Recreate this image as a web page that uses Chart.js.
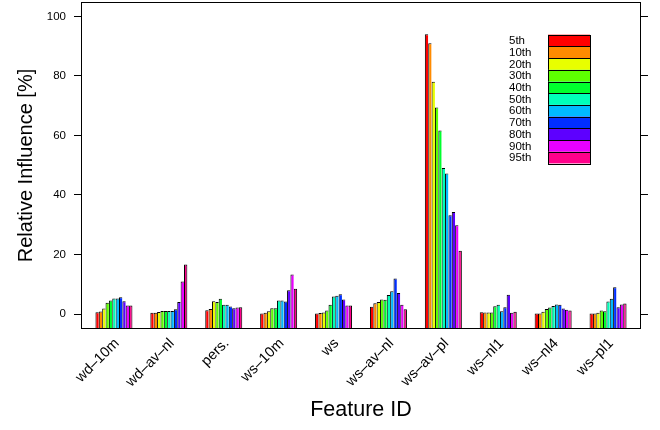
<!DOCTYPE html>
<html>
<head>
<meta charset="utf-8">
<script src="https://cdn.jsdelivr.net/npm/chart.js@4/dist/chart.umd.min.js"></script>
<style>
  html, body { margin: 0; padding: 0; background: #fff; }
  #wrap { width: 660px; height: 430px; }
</style>
</head>
<body>
<div id="wrap"><canvas id="c" width="660" height="430"></canvas></div>
<script>
// ---- data ----
const categories = ['wd–10m','wd–av–nl','pers.','ws–10m','ws','ws–av–nl','ws–av–pl','ws–nl1','ws–nl4','ws–pl1'];
const quantileLabels = ['5th','10th','20th','30th','40th','50th','60th','70th','80th','90th','95th'];
const quantileColors = ['#FF0000','#FF8B00','#E8FF00','#5DFF00','#00FF2E','#00FFB9','#00B9FF','#002EFF','#5D00FF','#E800FF','#FF008B'];
const p5  = [0.6, 0.4, 1.3, 0.2, 0.2, 2.4, 94.0, 0.6, 0.2, 0.2];
const p10 = [0.85, 0.4, 1.7, 0.4, 0.3, 3.6, 91.0, 0.5, 0.2, 0.2];
const p20 = [1.85, 0.7, 4.3, 0.95, 0.5, 4.0, 78.1, 0.5, 0.8, 0.4];
const p30 = [3.75, 1.05, 4.0, 1.95, 1.2, 4.9, 69.4, 0.5, 1.7, 1.2];
const p40 = [4.5, 1.05, 5.1, 1.95, 3.1, 4.8, 61.7, 2.6, 2.2, 0.95];
const p50 = [5.2, 1.05, 3.1, 4.5, 5.9, 6.4, 49.1, 3.1, 2.7, 4.2];
const p60 = [5.2, 1.05, 3.1, 4.5, 6.1, 7.65, 47.25, 0.95, 3.2, 5.1];
const p70 = [5.6, 1.6, 2.5, 4.2, 6.65, 11.9, 33.2, 2.3, 3.1, 9.0];
const p80 = [4.3, 4.0, 1.95, 8.0, 4.9, 7.1, 34.3, 6.5, 1.85, 2.3];
const p90 = [2.85, 10.9, 2.2, 13.3, 2.85, 3.1, 29.8, 0.4, 1.4, 3.2];
const p95 = [2.85, 16.6, 2.3, 8.5, 2.85, 1.6, 21.3, 0.8, 1.2, 3.5];
const yTicks = [0, 20, 40, 60, 80, 100];
const yMin = -5.04, yMax = 104.87;
const xMin = 0.4, xMax = 10.6;

const seriesValues = [p5, p10, p20, p30, p40, p50, p60, p70, p80, p90, p95];
const FONT = '"Liberation Sans", Arial, Helvetica, sans-serif';

const datasets = seriesValues.map((vals, i) => ({
  label: quantileLabels[i],
  data: vals.map((v, j) => ({ x: j + 1, y: v })),
  backgroundColor: quantileColors[i],
  borderColor: '#000',
  borderWidth: i === seriesValues.length - 1 ? { left: 1, right: 1, top: 1, bottom: 0 } : { left: 1, right: 0, top: 1, bottom: 0 },
  borderSkipped: false,
  base: yMin,
  categoryPercentage: 0.674,
  barPercentage: 1.0
}));

const framePlugin = {
  id: 'frame',
  afterDraw(chart) {
    const { ctx, chartArea: a } = chart;
    ctx.save();
    ctx.strokeStyle = '#000';
    ctx.lineWidth = 1;
    ctx.strokeRect(Math.round(a.left) + 0.5, Math.round(a.top) + 0.5, Math.round(a.right - a.left) - 1, Math.round(a.bottom - a.top) - 1);
    ctx.restore();
  }
};

const legendPlugin = {
  id: 'customLegend',
  afterDatasetsDraw(chart) {
    const { ctx } = chart;
    const x0 = 509, sx = 548, sw = 42, y0 = 34.7, rh = 11.7;
    ctx.save();
    chart.data.datasets.forEach((ds, i) => {
      const y = y0 + i * rh;
      ctx.fillStyle = ds.backgroundColor;
      ctx.fillRect(sx, y, sw, rh);
      ctx.strokeStyle = '#000';
      ctx.lineWidth = 1;
      ctx.strokeRect(sx + 0.5, Math.round(y) + 0.5, sw, Math.round(rh));
      ctx.fillStyle = '#000';
      ctx.font = '11.5px ' + FONT;
      ctx.textAlign = 'left';
      ctx.textBaseline = 'middle';
      ctx.fillText(ds.label, x0, y + rh / 2 + 0.5);
    });
    ctx.restore();
  }
};

new Chart(document.getElementById('c'), {
  type: 'bar',
  data: { datasets },
  options: {
    responsive: false,
    animation: false,
    devicePixelRatio: 1,
    layout: { padding: { top: 2, left: 0, right: 0, bottom: 0 } },
    plugins: { legend: { display: false }, tooltip: { enabled: false } },
    scales: {
      x: {
        type: 'linear',
        min: xMin, max: xMax,
        offset: false,
        grid: { display: false, drawTicks: false },
        border: { display: false },
        afterBuildTicks(s) { s.ticks = categories.map((c, i) => ({ value: i + 1 })); },
        afterFit(s) { s.height = 101; s.paddingLeft = 0; s.paddingRight = 0; },
        ticks: {
          autoSkip: false, minRotation: 45, maxRotation: 45,
          color: '#000', padding: 6, labelOffset: 3,
          font: { family: FONT, size: 14.5 },
          callback: (v) => categories[Math.round(v) - 1]
        },
        title: { display: true, text: 'Feature ID', color: '#000', font: { family: FONT, size: 21.5 }, padding: { top: 0, bottom: 7 } }
      },
      y: {
        position: 'left',
        min: yMin, max: yMax,
        grid: { drawOnChartArea: false, drawTicks: true, tickLength: 7, color: '#000' },
        border: { display: false },
        afterBuildTicks(s) { s.ticks = yTicks.map(v => ({ value: v })); },
        afterFit(s) { s.width = 81; s.paddingTop = 0; s.paddingBottom = 0; },
        ticks: { color: '#000', padding: 8, font: { family: FONT, size: 11.5 } },
        title: { display: true, text: 'Relative Influence [%]', color: '#000', font: { family: FONT, size: 20 }, padding: { top: 14, bottom: 0 } }
      },
      y2: {
        position: 'right',
        min: yMin, max: yMax,
        grid: { drawOnChartArea: false, drawTicks: true, tickLength: 7, color: '#000' },
        border: { display: false },
        afterBuildTicks(s) { s.ticks = yTicks.map(v => ({ value: v })); },
        afterFit(s) { s.width = 19; s.paddingTop = 0; s.paddingBottom = 0; },
        ticks: { display: false }
      }
    }
  },
  plugins: [framePlugin, legendPlugin]
});
</script>
</body>
</html>
